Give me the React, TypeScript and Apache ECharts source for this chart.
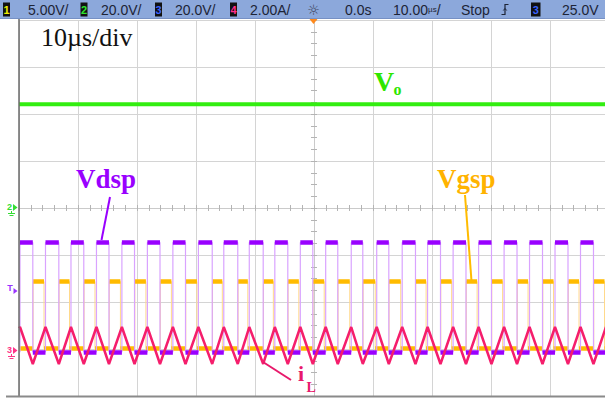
import React, { useEffect, useRef } from "react";
import * as echarts from "echarts";

// Screen geometry: 10 horizontal divisions of 10 µs (trigger at 0 µs), 8 vertical divisions
const TIME_MIN_US = -50;
const TIME_MAX_US = 50;
const DIV_MIN = -4;
const DIV_MAX = 4;

// Header readouts
const CHANNEL_IDS = ["1", "2", "3", "4"];
const CHANNEL_SCALES = ["5.00V/", "20.0V/", "20.0V/", "2.00A/"];
const TIME_READOUTS = ["0.0s", "10.00", "Stop"];
const TRIGGER_READOUT = ["3", "25.0V"];

// Vdsp switching instants (µs)
const VDSP_RISE_US = [
  -49.83, -45.51, -41.19, -36.87, -32.56, -28.24, -23.92, -19.59, -15.29, -10.97, -6.64, -2.32,
  1.98, 6.31, 10.63, 14.95, 19.25, 23.58, 27.9, 32.22, 36.53, 40.85, 45.17, 49.49,
];
const VDSP_FALL_US = [
  -47.66, -43.25, -39.02, -34.75, -30.42, -26.1, -21.78, -17.25, -12.92, -8.61, -4.44, -0.2,
  4.03, 8.27, 12.68, 17.2, 21.44, 25.76, 30.08, 34.41, 38.73, 43.05, 47.37,
];
// Vgsp dead times (µs): delay after Vdsp falls, lead before Vdsp rises
const VGSP_DEAD_US = [0.05, 0.25];

// Trace levels on screen (divisions)
const VO_LEVEL = [2.21];
const VDSP_LEVELS = [-0.734, -3.064]; // high, low
const VGSP_LEVELS = [-1.564, -2.994]; // high, low
const IL_LEVELS = [-2.532, -3.319]; // peak, valley
const IL_ENDS = [-2.56, -2.6]; // value at left / right screen edge

const COLORS = {
  vo: "#33ee11",
  vdsp: "#9900ff",
  vdspEdge: "#d9a3ff",
  vgsp: "#ffbb00",
  vgspEdge: "#ffd98a",
  il: "#f51e6c",
};

type Pt = [number, number];

function buildVdsp() {
  const [hi, lo] = VDSP_LEVELS;
  const line: Pt[] = [[TIME_MIN_US, lo]];
  const segs: Pt[][] = [];
  VDSP_RISE_US.forEach((r, i) => {
    line.push([r, lo], [r, hi]);
    const f = VDSP_FALL_US[i];
    if (f !== undefined) {
      line.push([f, hi], [f, lo]);
      segs.push([[r, hi], [f, hi]]);
      const next = VDSP_RISE_US[i + 1] ?? TIME_MAX_US;
      segs.push([[f, lo], [next, lo]]);
    } else {
      line.push([TIME_MAX_US, hi]);
      segs.push([[r, hi], [TIME_MAX_US, hi]]);
    }
  });
  return { line, segs };
}

function buildVgsp() {
  const [hi, lo] = VGSP_LEVELS;
  const [delay, lead] = VGSP_DEAD_US;
  const line: Pt[] = [[TIME_MIN_US, lo]];
  const segs: Pt[][] = [];
  let lowStart = TIME_MIN_US;
  VDSP_FALL_US.forEach((f, i) => {
    const up = f + delay;
    const next = VDSP_RISE_US[i + 1];
    const down = next !== undefined ? next - lead : TIME_MAX_US;
    segs.push([[lowStart, lo], [up, lo]]);
    line.push([up, lo], [up, hi], [down, hi], [down, lo]);
    segs.push([[up, hi], [down, hi]]);
    lowStart = down;
  });
  line.push([TIME_MAX_US, lo]);
  segs.push([[lowStart, lo], [TIME_MAX_US, lo]]);
  return { line, segs };
}

function buildIl() {
  const [peak, valley] = IL_LEVELS;
  const pts: Pt[] = [
    ...VDSP_RISE_US.map((t) => [t, peak] as Pt),
    ...VDSP_FALL_US.map((t) => [t, valley] as Pt),
  ].sort((a, b) => a[0] - b[0]);
  return [[TIME_MIN_US, IL_ENDS[0]] as Pt, ...pts, [TIME_MAX_US, IL_ENDS[1]] as Pt];
}

const SERIF = '"Liberation Serif", "Times New Roman", serif';
const SANS = '"Liberation Sans", Arial, sans-serif';

function headerGraphics() {
  const els: any[] = [];
  els.push({ type: "rect", shape: { x: 0, y: 0, width: 610, height: 19 }, style: { fill: "#8ca8db" }, z: 100 });
  els.push({ type: "line", shape: { x1: 0, y1: 18.5, x2: 610, y2: 18.5 }, style: { stroke: "#7690c4", lineWidth: 1 }, z: 100 });
  const boxX = [3, 80.5, 155, 230];
  const digitColors = ["#f0f000", "#2ee62e", "#3a63ff", "#ff2e8c"];
  const textX = [28, 101, 175, 250];
  CHANNEL_IDS.forEach((id, i) => {
    els.push({ type: "rect", shape: { x: boxX[i], y: 2.5, width: 7, height: 14 }, style: { fill: "#111" }, z: 101 });
    els.push({
      type: "text", x: boxX[i] + 3.5, y: 9.8, z: 102,
      style: { text: id, font: `bold 11px ${SANS}`, fill: digitColors[i], align: "center", verticalAlign: "middle" },
    });
    els.push({
      type: "text", x: textX[i], y: 9.8, z: 102,
      style: { text: CHANNEL_SCALES[i], font: `14px ${SANS}`, fill: "#1d2436", verticalAlign: "middle" },
    });
  });
  els.push({
    type: "text", x: 313.5, y: 9.8, z: 102,
    style: { text: "☼", font: `14px "DejaVu Sans", sans-serif`, fill: "#3a4258", align: "center", verticalAlign: "middle" },
  });
  els.push({
    type: "text", x: 345, y: 9.8, z: 102,
    style: { text: TIME_READOUTS[0], font: `14px ${SANS}`, fill: "#1d2436", verticalAlign: "middle" },
  });
  els.push({
    type: "text", x: 393, y: 9.8, z: 102,
    style: {
      text: `{a|${TIME_READOUTS[1]}}{b|µs}{a|/}`,
      verticalAlign: "middle",
      rich: {
        a: { font: `14px ${SANS}`, fill: "#1d2436" },
        b: { font: `8px ${SANS}`, fill: "#1d2436" },
      },
    },
  });
  els.push({
    type: "text", x: 461, y: 9.8, z: 102,
    style: { text: TIME_READOUTS[2], font: `14px ${SANS}`, fill: "#1d2436", verticalAlign: "middle" },
  });
  els.push({
    type: "polyline", z: 102,
    shape: { points: [[501.5, 14.5], [505, 14.5], [505, 4.5], [508.5, 4.5]] },
    style: { stroke: "#1d2436", lineWidth: 1.2, fill: "none" },
  });
  els.push({
    type: "polyline", z: 102,
    shape: { points: [[503.3, 10.5], [505, 8.5], [506.7, 10.5]] },
    style: { stroke: "#1d2436", lineWidth: 1, fill: "none" },
  });
  els.push({ type: "rect", shape: { x: 531, y: 2.5, width: 9.5, height: 14 }, style: { fill: "#111" }, z: 101 });
  els.push({
    type: "text", x: 535.8, y: 9.8, z: 102,
    style: { text: TRIGGER_READOUT[0], font: `bold 11px ${SANS}`, fill: "#3a63ff", align: "center", verticalAlign: "middle" },
  });
  els.push({
    type: "text", x: 562, y: 9.8, z: 102,
    style: { text: TRIGGER_READOUT[1], font: `14px ${SANS}`, fill: "#1d2436", verticalAlign: "middle" },
  });
  // trigger position marker
  els.push({
    type: "polygon", z: 102,
    shape: { points: [[309.5, 19], [317.5, 19], [313.5, 24]] },
    style: { fill: "#ff8a1c" },
  });
  return els;
}

function markerGraphics() {
  const els: any[] = [];
  const ground = (cx: number, y: number, color: string) => [
    { type: "line", shape: { x1: cx, y1: y, x2: cx, y2: y + 2.5 }, style: { stroke: color, lineWidth: 1 }, z: 20 },
    { type: "line", shape: { x1: cx - 3.5, y1: y + 2.5, x2: cx + 3.5, y2: y + 2.5 }, style: { stroke: color, lineWidth: 1 }, z: 20 },
    { type: "line", shape: { x1: cx - 2, y1: y + 4.5, x2: cx + 2, y2: y + 4.5 }, style: { stroke: color, lineWidth: 1 }, z: 20 },
  ];
  // channel 2 reference
  els.push({ type: "text", x: 9.5, y: 207, z: 20, style: { text: "2", font: `bold 9px ${SANS}`, fill: "#33dd33", align: "center", verticalAlign: "middle" } });
  els.push({ type: "polygon", z: 20, shape: { points: [[13, 204], [17.5, 207.5], [13, 211]] }, style: { fill: "#33dd33" } });
  els.push(...ground(11.5, 211, "#33dd33"));
  // trigger level
  els.push({ type: "text", x: 10, y: 288, z: 20, style: { text: "T", font: `bold 9px ${SANS}`, fill: "#9933ff", align: "center", verticalAlign: "middle" } });
  els.push({ type: "polygon", z: 20, shape: { points: [[13.5, 288], [17.5, 291], [13.5, 294]] }, style: { fill: "#9933ff" } });
  // channel 3/4 reference
  els.push({ type: "text", x: 9.5, y: 350, z: 20, style: { text: "3", font: `bold 9px ${SANS}`, fill: "#ff3388", align: "center", verticalAlign: "middle" } });
  els.push({ type: "polygon", z: 20, shape: { points: [[13, 347], [17.5, 350.5], [13, 354]] }, style: { fill: "#ff3388" } });
  els.push(...ground(11.5, 354, "#ff3388"));
  return els;
}

function labelGraphics() {
  const els: any[] = [];
  els.push({
    type: "text", x: 41, y: 24, z: 30,
    style: { text: "10µs/div", font: `26px ${SERIF}`, fill: "#111", verticalAlign: "top" },
  });
  els.push({
    type: "text", x: 374, y: 67, z: 30,
    style: { text: "V", font: `bold 28px ${SERIF}`, fill: "#2ee600", verticalAlign: "top" },
  });
  els.push({
    type: "text", x: 393.5, y: 81, z: 30,
    style: { text: "o", font: `bold 16px ${SERIF}`, fill: "#2ee600", verticalAlign: "top" },
  });
  els.push({
    type: "text", x: 76, y: 165, z: 30,
    style: { text: "Vdsp", font: `bold 27px ${SERIF}`, fill: "#9900ff", verticalAlign: "top" },
  });
  els.push({
    type: "text", x: 437, y: 165, z: 30,
    style: { text: "Vgsp", font: `bold 27px ${SERIF}`, fill: "#ffb300", verticalAlign: "top" },
  });
  els.push({
    type: "text", x: 298, y: 362, z: 30,
    style: { text: "i", font: `bold 22px ${SERIF}`, fill: "#e8196b", verticalAlign: "top" },
  });
  els.push({
    type: "text", x: 306.5, y: 380, z: 30,
    style: { text: "L", font: `bold 14px ${SERIF}`, fill: "#e8196b", verticalAlign: "top" },
  });
  // pointers
  els.push({ type: "line", z: 30, shape: { x1: 110, y1: 197, x2: 101.5, y2: 240 }, style: { stroke: "#9900ff", lineWidth: 2 } });
  els.push({ type: "line", z: 30, shape: { x1: 465, y1: 195, x2: 471.5, y2: 281 }, style: { stroke: "#ffbb00", lineWidth: 2 } });
  els.push({ type: "line", z: 30, shape: { x1: 263, y1: 362, x2: 291, y2: 380 }, style: { stroke: "#e8196b", lineWidth: 2 } });
  return els;
}

function frameGraphics() {
  return [
    { type: "line", z: 15, shape: { x1: 19, y1: 19, x2: 19, y2: 397 }, style: { stroke: "#6a6a6a", lineWidth: 1.5 } },
    { type: "line", z: 15, shape: { x1: 6, y1: 396.5, x2: 610, y2: 396.5 }, style: { stroke: "#8a8a8a", lineWidth: 2 } },
  ];
}

function centerAxis(dim: "x" | "y", position: string, withGrid: boolean) {
  const isX = dim === "x";
  return {
    type: "value",
    min: isX ? TIME_MIN_US : DIV_MIN,
    max: isX ? TIME_MAX_US : DIV_MAX,
    interval: isX ? 10 : 1,
    position,
    axisLine: { show: true, onZero: true, lineStyle: { color: "#cacaca", width: 1 } },
    axisTick: { show: true, length: 3, lineStyle: { color: "#b4b4b4" } },
    minorTick: { show: true, splitNumber: isX ? 5 : 4, length: 3, lineStyle: { color: "#b4b4b4" } },
    axisLabel: { show: false },
    splitLine: { show: withGrid, lineStyle: { color: "#d4d4d4", width: 1 } },
    minorSplitLine: { show: false },
  };
}

export default function App() {
  const ref = useRef<HTMLDivElement>(null);

  useEffect(() => {
    if (!ref.current) return;
    const chart = echarts.init(ref.current, undefined, { renderer: "svg" });
    const vdsp = buildVdsp();
    const vgsp = buildVgsp();
    const il = buildIl();

    chart.setOption({
      animation: false,
      backgroundColor: "#ffffff",
      grid: { left: 19, top: 20, width: 590, height: 376, show: false },
      xAxis: [centerAxis("x", "bottom", true), centerAxis("x", "top", false)],
      yAxis: [centerAxis("y", "left", true), centerAxis("y", "right", false)],
      series: [
        {
          name: "Vo", type: "line", showSymbol: false, silent: true, z: 3,
          data: [[TIME_MIN_US, VO_LEVEL[0]], [TIME_MAX_US, VO_LEVEL[0]]],
          lineStyle: { color: COLORS.vo, width: 4 },
        },
        {
          name: "Vgsp edges", type: "line", showSymbol: false, silent: true, z: 4,
          data: vgsp.line, lineStyle: { color: COLORS.vgspEdge, width: 1 },
        },
        {
          name: "Vgsp", type: "lines", coordinateSystem: "cartesian2d", silent: true, z: 5,
          data: vgsp.segs.map((c) => ({ coords: c })),
          lineStyle: { color: COLORS.vgsp, width: 4.5, opacity: 1 },
        },
        {
          name: "Vdsp edges", type: "line", showSymbol: false, silent: true, z: 6,
          data: vdsp.line, lineStyle: { color: COLORS.vdspEdge, width: 1.2 },
        },
        {
          name: "Vdsp", type: "lines", coordinateSystem: "cartesian2d", silent: true, z: 7,
          data: vdsp.segs.map((c) => ({ coords: c })),
          lineStyle: { color: COLORS.vdsp, width: 4.5, opacity: 1 },
        },
        {
          name: "iL", type: "line", showSymbol: false, silent: true, z: 8,
          data: il, lineStyle: { color: COLORS.il, width: 2.5 },
        },
      ],
      graphic: [...frameGraphics(), ...markerGraphics(), ...labelGraphics(), ...headerGraphics()],
    });

    return () => chart.dispose();
  }, []);

  return (
    <div
      style={{
        position: "fixed", left: 0, top: 0, width: 605, height: 403,
        overflow: "hidden", background: "#fff",
      }}
    >
      <div ref={ref} style={{ width: 610, height: 403 }} />
    </div>
  );
}
